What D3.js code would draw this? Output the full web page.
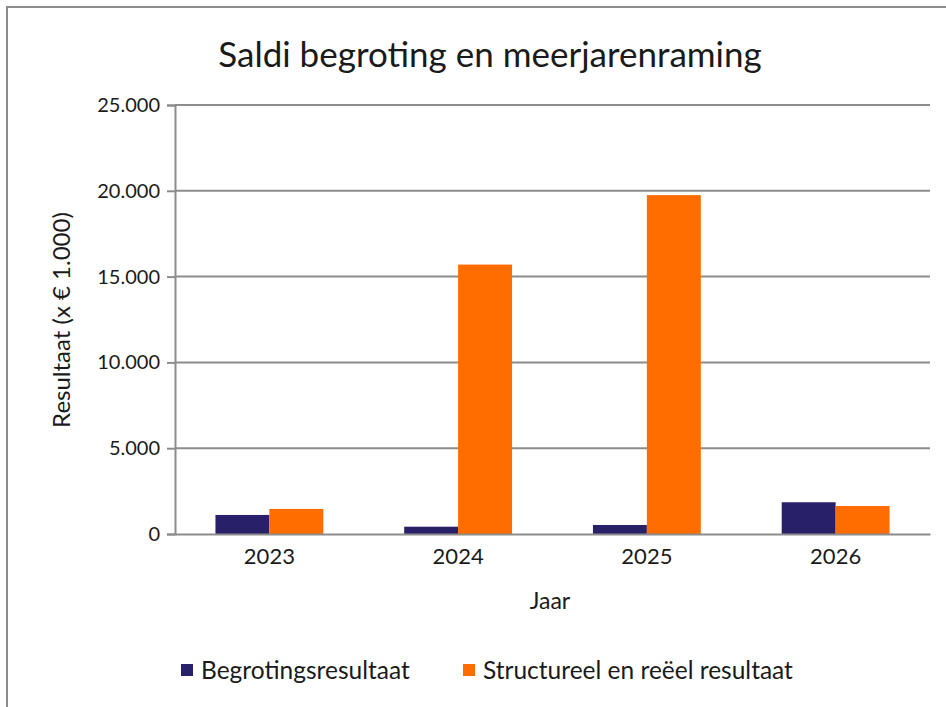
<!DOCTYPE html>
<html>
<head>
<meta charset="utf-8">
<script src="https://cdn.jsdelivr.net/npm/d3@7"></script>
<style>
  body { margin: 0; background: #fff; }
  text { font-family: Lato, "Noto Sans", sans-serif; fill: #1a1a1a; }
</style>
</head>
<body>
<div id="chart"></div>
<script>
// data
var years = ["2023", "2024", "2025", "2026"];
var begroting = [1110, 425, 525, 1850];
var structureel = [1460, 15700, 19750, 1630];
var seriesNames = ["Begrotingsresultaat", "Structureel en reëel resultaat"];
var seriesColors = ["#28216a", "#ff6c00"];
var yTicks = [0, 5000, 10000, 15000, 20000, 25000];

var W = 946, H = 707;
var margin = {top: 105, right: 16, bottom: 173, left: 175};
var width = W - margin.left - margin.right,
    height = H - margin.top - margin.bottom;

var svg = d3.select("#chart").append("svg")
  .attr("width", W)
  .attr("height", H);

// outer frame
svg.append("rect")
  .attr("x", 7).attr("y", 7)
  .attr("width", W + 10).attr("height", H + 10)
  .attr("fill", "none")
  .attr("stroke", "#8c8c8c")
  .attr("stroke-width", 2);

var g = svg.append("g")
  .attr("transform", "translate(" + margin.left + "," + margin.top + ")");

var x = d3.scaleBand().domain(years).range([0, width]).padding(0);
var y = d3.scaleLinear().domain([0, 25000]).range([height, 0]);

// gridlines
g.selectAll(".grid")
  .data(yTicks.slice(1))
  .enter().append("line")
  .attr("x1", 0).attr("x2", width)
  .attr("y1", function(d) { return y(d); })
  .attr("y2", function(d) { return y(d); })
  .attr("stroke", "#8c8c8c")
  .attr("stroke-width", 2);

// y axis
var fmt = function(d) { return d3.format(",")(d).replace(/,/g, "."); };
var yAxis = g.append("g")
  .call(d3.axisLeft(y).tickValues(yTicks).tickFormat(fmt).tickSize(8).tickPadding(7));
yAxis.select(".domain").attr("stroke", "#8c8c8c").attr("stroke-width", 2);
yAxis.selectAll(".tick line").attr("stroke", "#8c8c8c").attr("stroke-width", 2);
yAxis.selectAll(".tick text")
  .style("font-size", "20px")
  .style("font-family", "Lato, 'Noto Sans', sans-serif")
  .attr("fill", "#1a1a1a");

// bars
var x1 = d3.scaleBand().domain([0, 1]).range([0, x.bandwidth()]).paddingOuter(0.75).paddingInner(0);
var rows = years.map(function(yr, i) { return {year: yr, vals: [begroting[i], structureel[i]]}; });

var groups = g.selectAll(".grp")
  .data(rows)
  .enter().append("g")
  .attr("transform", function(d) { return "translate(" + x(d.year) + ",0)"; });

groups.selectAll("rect")
  .data(function(d) { return d.vals.map(function(v, k) { return {k: k, v: v}; }); })
  .enter().append("rect")
  .attr("x", function(d) { return x1(d.k); })
  .attr("width", x1.bandwidth())
  .attr("y", function(d) { return y(d.v); })
  .attr("height", function(d) { return y(0) - y(d.v); })
  .attr("fill", function(d) { return seriesColors[d.k]; });

// x axis
var xAxis = g.append("g")
  .attr("transform", "translate(0," + height + ")")
  .call(d3.axisBottom(x).tickSize(0).tickPadding(14));
xAxis.select(".domain").attr("stroke", "#8c8c8c").attr("stroke-width", 2);
xAxis.selectAll(".tick text")
  .style("font-size", "22px")
  .style("font-family", "Lato, 'Noto Sans', sans-serif")
  .attr("fill", "#1a1a1a");

// title
svg.append("text")
  .attr("x", 490).attr("y", 67)
  .attr("text-anchor", "middle")
  .style("font-size", "35px")
  .text("Saldi begroting en meerjarenraming");

// axis titles
svg.append("text")
  .attr("x", 550).attr("y", 609)
  .attr("text-anchor", "middle")
  .style("font-size", "23px")
  .text("Jaar");

svg.append("text")
  .attr("transform", "translate(70,320) rotate(-90)")
  .attr("text-anchor", "middle")
  .style("font-size", "24px")
  .text("Resultaat (x € 1.000)");

// legend
var legX = [181, 463];
var leg = svg.selectAll(".leg")
  .data(seriesNames)
  .enter().append("g")
  .attr("transform", function(d, i) { return "translate(" + legX[i] + ",664)"; });
leg.append("rect")
  .attr("width", 12).attr("height", 12)
  .attr("fill", function(d, i) { return seriesColors[i]; });
leg.append("text")
  .attr("x", 20).attr("y", 15)
  .style("font-size", "24.5px")
  .text(function(d) { return d; });
</script>
</body>
</html>
